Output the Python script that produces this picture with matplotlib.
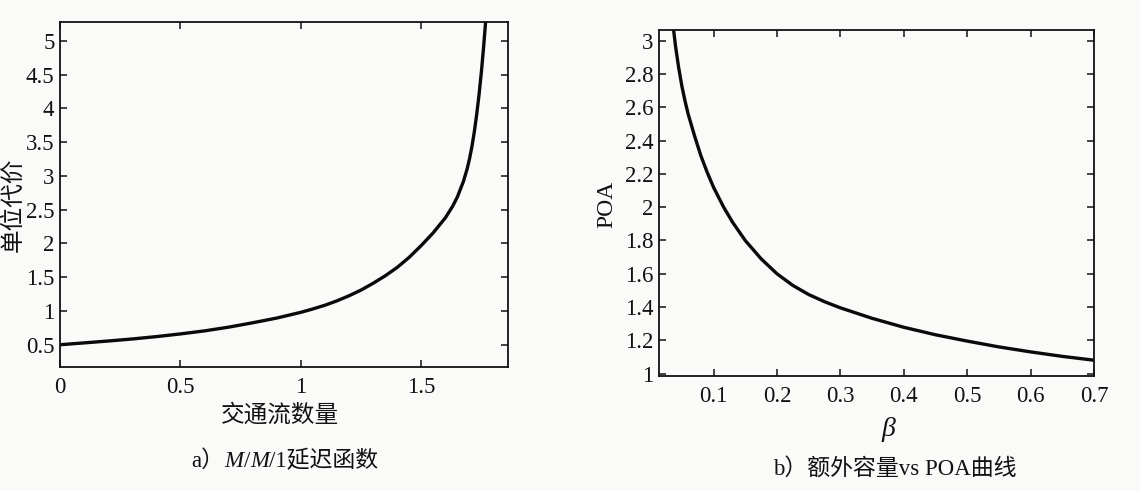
import matplotlib
matplotlib.use("Agg")
import matplotlib.pyplot as plt
from matplotlib.offsetbox import TextArea, HPacker, AnnotationBbox

# Panel a: M/M/1 delay function
flow = [0.0, 0.1, 0.2, 0.3, 0.4, 0.5, 0.6, 0.7, 0.8, 0.9, 1.0, 1.05, 1.1, 1.15,
        1.2, 1.25, 1.3, 1.35, 1.4, 1.45, 1.5, 1.55, 1.6, 1.63, 1.65, 1.675,
        1.69, 1.70, 1.71, 1.72, 1.73, 1.74, 1.75, 1.758, 1.765, 1.772]
unit_cost = [0.5, 0.527, 0.555, 0.585, 0.62, 0.66, 0.705, 0.76, 0.825, 0.895,
             0.98, 1.03, 1.085, 1.15, 1.225, 1.31, 1.41, 1.52, 1.645, 1.795,
             1.97, 2.16, 2.38, 2.55, 2.69, 2.92, 3.1, 3.25, 3.43, 3.65, 3.91,
             4.21, 4.56, 4.88, 5.19, 5.52]

# Panel b: extra capacity vs POA
beta = [0.036, 0.04, 0.045, 0.05, 0.055, 0.06, 0.07, 0.08, 0.09, 0.1, 0.116,
        0.13, 0.15, 0.175, 0.2, 0.225, 0.25, 0.275, 0.3, 0.35, 0.4, 0.45, 0.5,
        0.55, 0.6, 0.65, 0.7]
poa = [3.1, 2.97, 2.84, 2.73, 2.64, 2.56, 2.43, 2.31, 2.21, 2.12, 2.0, 1.91,
       1.80, 1.69, 1.60, 1.53, 1.475, 1.432, 1.395, 1.332, 1.278, 1.233,
       1.195, 1.16, 1.13, 1.103, 1.08]

a_xticks = [0, 0.5, 1, 1.5]
a_xticklabels = ["0", "0.5", "1", "1.5"]
a_yticks = [0.5, 1, 1.5, 2, 2.5, 3, 3.5, 4, 4.5, 5]
a_yticklabels = ["0.5", "1", "1.5", "2", "2.5", "3", "3.5", "4", "4.5", "5"]
b_xticks = [0.1, 0.2, 0.3, 0.4, 0.5, 0.6, 0.7]
b_xticklabels = ["0.1", "0.2", "0.3", "0.4", "0.5", "0.6", "0.7"]
b_yticks = [1, 1.2, 1.4, 1.6, 1.8, 2, 2.2, 2.4, 2.6, 2.8, 3]
b_yticklabels = ["1", "1.2", "1.4", "1.6", "1.8", "2", "2.2", "2.4", "2.6", "2.8", "3"]

plt.rcParams['font.family'] = ['Liberation Serif', 'Noto Sans CJK SC', 'DejaVu Sans']
plt.rcParams['mathtext.fontset'] = 'custom'
plt.rcParams['mathtext.rm'] = 'Liberation Serif'
plt.rcParams['mathtext.it'] = 'Liberation Serif:italic'

bg = '#fafaf9'
ink = '#111111'
fig = plt.figure(figsize=(11.4, 4.91), dpi=100, facecolor=bg)

cjk = ['Noto Sans CJK SC', 'Liberation Serif']
mixed = ['Liberation Serif', 'Noto Sans CJK SC']

def style(ax):
    ax.set_facecolor(bg)
    for s in ax.spines.values():
        s.set_linewidth(1.3)
        s.set_color(ink)
    ax.tick_params(direction='in', top=True, right=True, length=5, width=1.1,
                   labelsize=16.5, colors=ink)

# Panel a
ax1 = fig.add_axes([60/1140, 1-367/491, (508-60)/1140, (367-22)/491])
ax1.plot(flow, unit_cost, color='#0a0a0a', lw=2.4, solid_joinstyle='round')
ax1.set_xlim(0, 1.86)
ax1.set_ylim(0.17, 5.28)
ax1.set_xticks(a_xticks)
ax1.set_xticklabels(a_xticklabels)
ax1.set_yticks(a_yticks)
ax1.set_yticklabels(a_yticklabels)
style(ax1)
ax1.tick_params(axis='x', pad=7)
ax1.tick_params(axis='y', pad=4)

# Panel b
ax2 = fig.add_axes([659/1140, 1-376/491, (1094-659)/1140, (376-30)/491])
ax2.plot(beta, poa, color='#0a0a0a', lw=2.4, solid_joinstyle='round')
ax2.set_xlim(0.014, 0.7)
ax2.set_ylim(0.985, 3.066)
ax2.set_xticks(b_xticks)
ax2.set_xticklabels(b_xticklabels)
ax2.set_yticks(b_yticks)
ax2.set_yticklabels(b_yticklabels)
style(ax2)
ax2.tick_params(axis='x', pad=7)
ax2.tick_params(axis='y', pad=4)

# Axis labels
fig.text(13/1140, 1-205/491, '单位代价', family=cjk, fontsize=17, rotation=90,
         ha='center', va='center', color=ink)
fig.text(280/1140, 1-415/491, '交通流数量', family=cjk, fontsize=17,
         ha='center', va='center', color=ink)
fig.text(607/1140, 1-204/491, 'POA', fontsize=17, rotation=90,
         ha='center', va='center', color=ink)
fig.text(889/1140, 1-429/491, r'$\beta$', fontsize=20,
         ha='center', va='center', color=ink)

# Caption a, built from pieces so that M can be italic
cap_size = 16.5
pieces = [('a）', 'normal'), ('M', 'italic'), ('/', 'normal'), ('M', 'italic'),
          ('/1延迟函数', 'normal')]
areas = [TextArea(t, textprops=dict(family=mixed, fontstyle=st, fontsize=cap_size,
                                    color=ink)) for t, st in pieces]
pack = HPacker(children=areas, align='baseline', pad=0, sep=0)
ab = AnnotationBbox(pack, (285/1140, 1-461/491), xycoords='figure fraction',
                    frameon=False, box_alignment=(0.5, 0.5), pad=0)
fig.add_artist(ab)

# Caption b
fig.text(895/1140, 1-469/491, 'b）额外容量vs POA曲线', family=mixed, fontsize=cap_size,
         ha='center', va='center', color=ink)

fig.savefig('out.png', dpi=100, facecolor=bg)
